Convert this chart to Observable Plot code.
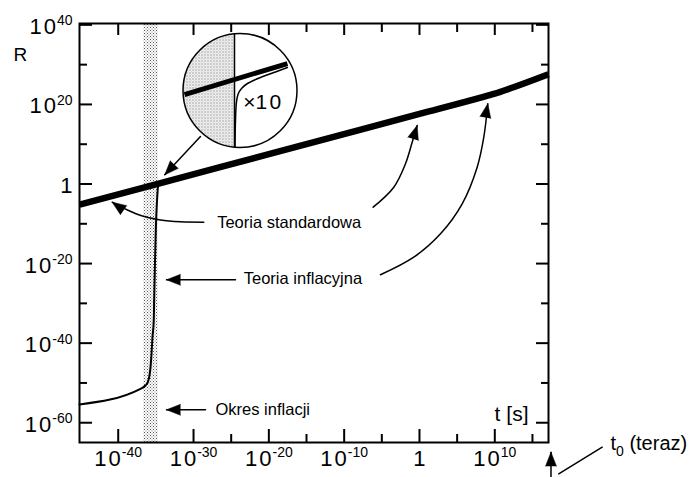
<!DOCTYPE html>
<html><head><meta charset="utf-8">
<script src="https://cdn.jsdelivr.net/npm/d3@7"></script>
<script src="https://cdn.jsdelivr.net/npm/@observablehq/plot@0.6"></script>
<style>html,body{margin:0;padding:0;background:#fff;overflow:hidden}</style>
</head><body><div id="chart"></div>
<script>
// ---- data (exponents: log10 t [s], log10 R) ----
const xMajorTicks = [-40, -30, -20, -10, 0, 10];
const xMinorTicks = [-35, -25, -15, -5, 5, 15];
const xTickLabels = ["10^-40", "10^-30", "10^-20", "10^-10", "1", "10^10"];
const yMajorTicks = [40, 20, 0, -20, -40, -60];
const yMinorTicks = [30, 10, -10, -30, -50];
const yTickLabels = ["10^40", "10^20", "1", "10^-20", "10^-40", "10^-60"];

const standardLogT = [-45.14, -35, -20, 0, 8, 10, 12, 17.13];
const standardLogR = [-5.2, -0.08, 7.5, 17.6, 21.64, 22.7, 24.0, 27.6];

const inflationLogT = [-45.14, -37.04, -36.38, -36.07, -35.85, -35.71, -35.58, -35.45, -35.28, -35.22, -35.12, -35.01, -34.7];
const inflationLogR = [-55.42, -51.47, -50.64, -49.81, -48.13, -46.04, -42.67, -38.50, -34.31, -28.52, -19.98, -11.69, 0.0];

const inflationEpoch = [-36.6, -34.69];

// magnified inset
const insetCenter = [-23.83, 23.5];
const insetDivideLogT = -24.56;
const insetDivideLogR = [37.75, 9.25];
const insetThickLogT = [-31.2, -17.53];
const insetThickLogR = [22.49, 30.28];
const insetThinLogT = [-24.49, -24.43, -24.32, -24.10, -23.63, -22.84, -21.11, -19.12, -17.53];
const insetThinLogR = [9.42, 15.96, 20.23, 22.49, 24.00, 25.26, 26.77, 28.15, 29.28];
const insetLabel = {text: "×10", logT: -20.88, logR: 20.56};

// annotations
const labelText = ["Teoria standardowa", "Teoria inflacyjna", "Okres inflacji"];
const labelLogT = [-26.86, -23.33, -27.08];
const labelLogR = [-9.68, -23.75, -56.85];

const arrowIds = ["inset", "std-left", "std-right", "infl-left", "infl-right", "epoch", "now"];
const arrowLogT = [
  [-29.08, -33.82],
  [-28.64, -31.73, -34.39, -36.78, -38.77, -40.80],
  [-6.15, -3.41, -1.86, -0.97, -0.31],
  [-24.43, -33.59],
  [-5.18, -0.76, 2.79, 5.67, 7.66, 8.54, 9.07],
  [-28.41, -33.59],
  [17.46, 17.46]
];
const arrowLogR = [
  [11.94, 2.31],
  [-9.60, -9.50, -9.05, -8.04, -6.53, -4.57],
  [-5.83, -0.80, 5.08, 10.50, 14.70],
  [-24.08, -24.08],
  [-22.82, -18.40, -12.52, -4.98, 4.22, 11.76, 20.16],
  [-56.75, -56.75],
  [-73.75, -67.40]
];
const arrowHeadAngles = [223, 305, 17, 270, 10, 270, 0];
const pointerLogT = [18.49, 24.26];
const pointerLogR = [-72.83, -66.15];

const yTitle = {text: "R", logT: -53.9, logR: 32.55};
const xTitle = {text: "t [s]", logT: 14.47, logR: -57.93};
const nowTitle = {text: "t_0 (teraz)", logT: 25.36, logR: -65.37};

// ---- build ----
const e = v => 10 ** v;
const standard = standardLogT.map((t, i) => ({t: e(t), R: e(standardLogR[i])}));
const inflation = inflationLogT.map((t, i) => ({t: e(t), R: e(inflationLogR[i])}));
const arrows = arrowIds.flatMap((id, k) => arrowLogT[k].map((t, i) => ({id, t: e(t), R: e(arrowLogR[k][i])})));
const heads = arrowIds.map((id, k) => ({t: e(arrowLogT[k].at(-1)), R: e(arrowLogR[k].at(-1)), angle: arrowHeadAngles[k]}));
const pointer = pointerLogT.map((t, i) => ({t: e(t), R: e(pointerLogR[i])}));
const labels = labelText.map((s, i) => ({s, t: e(labelLogT[i]), R: e(labelLogR[i])}));
const insetThin = insetThinLogT.map((t, i) => ({t: e(t), R: e(insetThinLogR[i])}));
const insetThick = insetThickLogT.map((t, i) => ({t: e(t), R: e(insetThickLogR[i])}));
const insetDivide = insetDivideLogR.map(r => ({t: e(insetDivideLogT), R: e(r)}));
const center = [{t: e(insetCenter[0]), R: e(insetCenter[1])}];
const at = d => ({x: e(d.logT), y: e(d.logR)});

const W = 696, H = 477, mL = 79, mR = 148, mT = 23, mB = 35;
const fw = W - mL - mR, fh = H - mT - mB;
const majorLen = 13, minorLen = 8;
const tickStyle = {stroke: "black", strokeWidth: 2};

const plot = Plot.plot({
  width: W, height: H,
  marginLeft: mL, marginRight: mR, marginTop: mT, marginBottom: mB,
  x: {type: "log", domain: [e(-45.14), e(17.13)], axis: null},
  y: {type: "log", domain: [e(-64.97), e(40.34)], axis: null},
  style: {fontFamily: "'Liberation Sans', Arial, sans-serif", background: "white", color: "black"},
  marks: [
    // ticks (inward)
    Plot.tickX(xMajorTicks, {x: e, insetTop: fh - majorLen, ...tickStyle}),
    Plot.tickX(xMinorTicks, {x: e, insetTop: fh - minorLen, ...tickStyle}),
    Plot.tickX(xMajorTicks, {x: e, insetBottom: fh - 12, ...tickStyle}),
    Plot.tickX(xMinorTicks, {x: e, insetBottom: fh - 9, ...tickStyle}),
    Plot.tickY(yMajorTicks, {y: e, insetRight: fw - majorLen, ...tickStyle}),
    Plot.tickY(yMinorTicks, {y: e, insetRight: fw - minorLen, ...tickStyle}),
    Plot.tickY(yMajorTicks, {y: e, insetLeft: fw - 12, ...tickStyle}),
    Plot.tickY(yMinorTicks, {y: e, insetLeft: fw - 7, ...tickStyle}),
    // tick labels
    Plot.text(xMajorTicks, {x: e, frameAnchor: "bottom", dy: 23, text: (d, i) => xTickLabels[i], fontSize: 22}),
    Plot.text(yMajorTicks, {y: e, frameAnchor: "left", dx: -7, dy: 2, textAnchor: "end", text: (d, i) => yTickLabels[i], fontSize: 22}),
    // inflation epoch band
    Plot.rect([inflationEpoch], {x1: d => e(d[0]), x2: d => e(d[1]), fill: "url(#stip)"}),
    // curves
    Plot.line(inflation, {x: "t", y: "R", curve: "monotone-x", stroke: "black", strokeWidth: 2}),
    Plot.line(standard, {x: "t", y: "R", curve: "monotone-x", stroke: "black", strokeWidth: 6.5, strokeLinecap: "butt"}),
    Plot.frame({stroke: "black", strokeWidth: 2}),
    // inset
    Plot.dot(center, {x: "t", y: "R", r: 57, fill: "white", stroke: "none"}),
    Plot.dot(center, {x: "t", y: "R", r: 57, fill: "url(#stip2)", stroke: "none"}),
    Plot.line(insetDivide, {x: "t", y: "R", stroke: "black", strokeWidth: 1.5}),
    Plot.line(insetThin, {x: "t", y: "R", curve: "monotone-y", stroke: "black", strokeWidth: 1.5}),
    Plot.line(insetThick, {x: "t", y: "R", stroke: "black", strokeWidth: 5, strokeLinecap: "butt"}),
    Plot.dot(center, {x: "t", y: "R", r: 57, fill: "none", stroke: "black", strokeWidth: 1.5}),
    Plot.text([insetLabel], {...at(insetLabel), text: "text", fontSize: 21}),
    // arrows
    Plot.line(arrows, {x: "t", y: "R", z: "id", curve: "catmull-rom", stroke: "black", strokeWidth: 1.5}),
    Plot.vector(heads, {x: "t", y: "R", rotate: "angle", length: 14, r: 5.5, shape: "spike", anchor: "end", fill: "black", stroke: "black", strokeWidth: 0.5}),
    Plot.line(pointer, {x: "t", y: "R", stroke: "black", strokeWidth: 1.5}),
    // annotations
    Plot.text(labels, {x: "t", y: "R", text: "s", textAnchor: "start", fontSize: 16.5}),
    Plot.text([yTitle], {...at(yTitle), text: "text", textAnchor: "start", fontSize: 19}),
    Plot.text([xTitle], {...at(xTitle), text: "text", textAnchor: "end", fontSize: 21}),
    Plot.text([nowTitle], {...at(nowTitle), text: "text", textAnchor: "start", fontSize: 20})
  ]
});

// stipple patterns + clip of inset shading
const svg = d3.select(plot);
const defs = svg.insert("defs", ":first-child");
for (const id of ["stip", "stip2"]) {
  const pat = defs.append("pattern").attr("id", id).attr("width", 3).attr("height", 3).attr("patternUnits", "userSpaceOnUse");
  pat.append("rect").attr("width", 3).attr("height", 3).attr("fill", "white");
  pat.append("rect").attr("width", 1).attr("height", 1).attr("fill", "#555");
  pat.append("rect").attr("x", 1.5).attr("y", 1.5).attr("width", 1).attr("height", 1).attr("fill", "#777");
}
const cx = plot.scale("x").apply(e(insetDivideLogT));
defs.append("clipPath").attr("id", "insetClip").append("rect").attr("x", 0).attr("y", 0).attr("width", cx).attr("height", H);
svg.selectAll("g").filter(function () { return this.getAttribute("fill") === "url(#stip2)"; })
   .attr("clip-path", "url(#insetClip)");
svg.selectAll("circle").filter(function () { return this.getAttribute("fill") === "url(#stip2)"; })
   .attr("clip-path", "url(#insetClip)");

// superscripts / subscripts
svg.selectAll("text").each(function () {
  const s = this.textContent;
  const el = d3.select(this);
  if (s.includes("^")) {
    const [base, exp] = s.split("^");
    el.text(null);
    el.append("tspan").text(base.slice(0, 1));
    el.append("tspan").attr("dx", 2).text(base.slice(1));
    el.append("tspan").attr("dy", -8.5).attr("dx", 1).attr("font-size", 14).text(exp);
  } else if (s.includes("_")) {
    const [base, rest] = s.split("_");
    el.text(null);
    el.append("tspan").text(base);
    el.append("tspan").attr("dy", 6).attr("font-size", 14).text(rest.slice(0, 1));
    el.append("tspan").attr("dy", -6).text(rest.slice(1));
  } else if (s === "×10") {
    el.text(null);
    el.append("tspan").text("×1");
    el.append("tspan").attr("dx", 2.5).text("0");
  }
});

document.getElementById("chart").append(plot);
</script>
</body></html>
